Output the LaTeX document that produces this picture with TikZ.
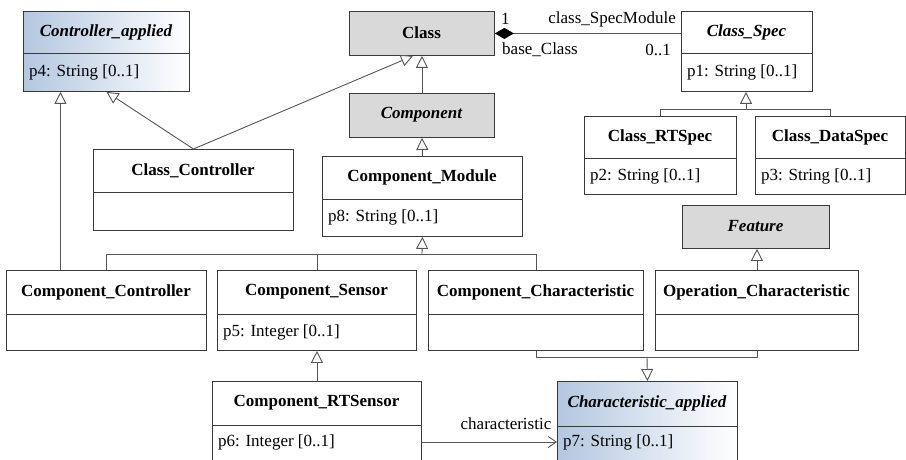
\documentclass[tikz,border=0pt]{standalone}
\usepackage{fontspec}
\setmainfont{Liberation Serif}
\usetikzlibrary{arrows.meta}

\definecolor{boxline}{HTML}{3A3A3A}
\definecolor{connline}{HTML}{555555}
\definecolor{absgray}{HTML}{D9D9D9}
\definecolor{appblue}{HTML}{B4C7E0}

\tikzset{
  umlbox/.style={draw=boxline, line width=0.9pt, inner sep=0pt, anchor=north west},
  plainbox/.style={umlbox, fill=white},
  abstractbox/.style={umlbox, fill=absgray},
  appliedbox/.style={umlbox, left color=appblue, right color=white},
  boxrule/.style={draw=boxline, line width=0.9pt},
  clsname/.style={font=\fontsize{17}{20}\selectfont\bfseries, inner sep=0pt},
  clsiname/.style={font=\fontsize{17}{20}\selectfont\bfseries\itshape, inner sep=0pt},
  clsattr/.style={font=\fontsize{17}{20}\selectfont, anchor=west, inner sep=0pt},
  rolelabel/.style={font=\fontsize{17}{20}\selectfont, inner sep=0pt},
  conn/.style={draw=connline, line width=0.9pt},
  gen/.style={conn, -{Triangle[length=12pt,width=12pt,fill=white]}},
  assoc/.style={conn, -{Straight Barb[length=8pt,width=11pt]}},
  compos/.style={conn, {Diamond[length=19pt,width=11pt,fill=black,color=black]}-},
}

% #1 name, #2 box style, #3 x1, #4 y1, #5 x2, #6 y2, #7 divider y (empty: none),
% #8 name style, #9 class name
\newcommand\umlclass[9]{%
  \node[#2, minimum width={(#5-#3)*1pt}, minimum height={(#6-#4)*1pt}] (#1) at (#3,#4) {};
  \ifx&#7&%
    \node[#8] (#1-name) at ({(#3+#5)/2},{(#4+#6)/2}) {#9};
  \else
    \draw[boxrule] (#3,#7) -- (#5,#7);
    \node[#8] (#1-name) at ({(#3+#5)/2},{(#4+#7)/2}) {#9};
  \fi
}

\begin{document}
\begin{tikzpicture}[x=1pt, y=-1pt]
\useasboundingbox (0,0) rectangle (906,460);

% ---- classes ----
\umlclass{ctrlapp}{appliedbox}{23}{11}{189}{91}{53}{clsiname}{Controller\_applied}
\node[clsattr] (ctrlapp-attr) at (29,72) {p4: String [0..1]};

\umlclass{cls}{abstractbox}{349}{11}{494}{55}{}{clsname}{Class}
\umlclass{comp}{abstractbox}{349}{93}{494}{137}{}{clsiname}{Component}

\umlclass{cspec}{plainbox}{681}{11}{812}{91}{53}{clsiname}{Class\_Spec}
\node[clsattr] (cspec-attr) at (687,72) {p1: String [0..1]};

\umlclass{crtspec}{plainbox}{584}{116}{736}{194}{158}{clsname}{Class\_RTSpec}
\node[clsattr] (crtspec-attr) at (590,176) {p2: String [0..1]};

\umlclass{cdataspec}{plainbox}{755}{116}{905}{194}{158}{clsname}{Class\_DataSpec}
\node[clsattr] (cdataspec-attr) at (761,176) {p3: String [0..1]};

\umlclass{cctrlr}{plainbox}{93}{149}{293}{230}{192}{clsname}{Class\_Controller}

\umlclass{cmod}{plainbox}{322}{156}{522}{236}{199}{clsname}{Component\_Module}
\node[clsattr] (cmod-attr) at (328,217) {p8: String [0..1]};

\umlclass{feat}{abstractbox}{682}{205}{829}{248}{}{clsiname}{Feature}

\umlclass{compctrl}{plainbox}{6}{270}{206}{350}{314}{clsname}{Component\_Controller}

\umlclass{compsens}{plainbox}{217}{270}{416}{350}{314}{clsname}{Component\_Sensor}
\node[clsattr] (compsens-attr) at (223,332) {p5: Integer [0..1]};

\umlclass{compchar}{plainbox}{428}{270}{643}{350}{314}{clsname}{Component\_Characteristic}

\umlclass{opchar}{plainbox}{655}{270}{858}{350}{314}{clsname}{Operation\_Characteristic}

\umlclass{comprts}{plainbox}{212}{381}{421}{464}{425}{clsname}{Component\_RTSensor}
\node[clsattr] (comprts-attr) at (218,442) {p6: Integer [0..1]};

\umlclass{charapp}{appliedbox}{557}{381}{737}{464}{426}{clsiname}{Characteristic\_applied}
\node[clsattr] (charapp-attr) at (563,442) {p7: String [0..1]};

% ---- generalizations ----
\draw[gen] (cctrlr.north) -- (ctrlapp.south);
\draw[gen] (cctrlr.north) -- ([xshift=-9pt]cls.south);
\draw[gen] (comp.north) -- (cls.south);
\draw[gen] (cmod.north) -- (comp.south);

\coordinate (jmod) at (422,254);
\draw[conn] (compctrl.north) |- (jmod);
\draw[conn] (compsens.north) |- (jmod);
\draw[conn] (compchar.north) |- (jmod);
\draw[gen] (jmod) -- (cmod.south);

\draw[gen] ([xshift=-46pt]compctrl.north) -- ([xshift=-46pt]compctrl.north |- ctrlapp.south);
\draw[gen] (comprts.north) -- (compsens.south);

\coordinate (jspec) at (746,109);
\draw[conn] (crtspec.north) |- (jspec);
\draw[conn] (cdataspec.north) |- (jspec);
\draw[gen] (jspec) -- (jspec |- cspec.south);

\draw[gen] (opchar.north) -- (opchar.north |- feat.south);

\coordinate (jchar) at (647,357);
\draw[conn] (compchar.south) |- (jchar);
\draw[conn] (opchar.south) |- (jchar);
\draw[gen] (jchar) -- (charapp.north);

% ---- associations ----
\draw[assoc] (comprts.east |- comprts-attr) -- (charapp.west |- comprts-attr);
\node[rolelabel] (lbl-char) at (506,424) {characteristic};

\draw[compos] (cls.east) -- (cls.east -| cspec.west);
\node[rolelabel, anchor=west] (lbl-one) at (501,19) {1};
\node[rolelabel, anchor=east] (lbl-spec) at (676,19) {class\_SpecModule};
\node[rolelabel, anchor=west] (lbl-base) at (502,50) {base\_Class};
\node[rolelabel, anchor=east] (lbl-opt) at (671,50) {0..1};
\end{tikzpicture}
\end{document}
